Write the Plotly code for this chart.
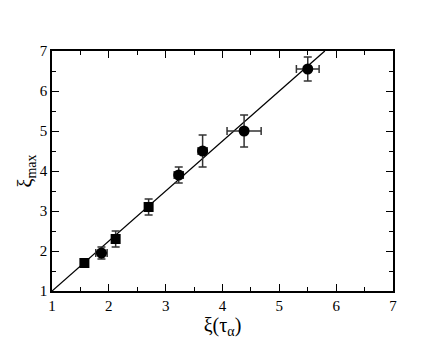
import plotly.graph_objects as go

# squares
sq_x = [1.57, 2.12, 2.70]
sq_y = [1.70, 2.30, 3.10]
sq_ex = [0.02, 0.05, 0.04]
sq_ey = [0.03, 0.20, 0.20]

# circles
ci_x = [1.87, 3.23, 3.65, 4.38, 5.50]
ci_y = [1.95, 3.90, 4.50, 5.00, 6.55]
ci_ex = [0.10, 0.08, 0.08, 0.30, 0.20]
ci_ey = [0.15, 0.20, 0.40, 0.40, 0.30]

fit_x = [1.0, 5.8]
fit_y = [1.0, 7.0]

font_family = "Liberation Serif"
eb_color = "#333333"

fig = go.Figure()
fig.add_trace(go.Scatter(x=fit_x, y=fit_y, mode="lines",
                         line=dict(color="black", width=1.3), showlegend=False))
fig.add_trace(go.Scatter(
    x=sq_x, y=sq_y, mode="markers",
    marker=dict(symbol="square", size=10, color="black"),
    error_x=dict(type="data", array=sq_ex, color=eb_color, thickness=1.5, width=4),
    error_y=dict(type="data", array=sq_ey, color=eb_color, thickness=1.5, width=4),
    showlegend=False))
fig.add_trace(go.Scatter(
    x=ci_x, y=ci_y, mode="markers",
    marker=dict(symbol="circle", size=11, color="black"),
    error_x=dict(type="data", array=ci_ex, color=eb_color, thickness=1.5, width=4),
    error_y=dict(type="data", array=ci_ey, color=eb_color, thickness=1.5, width=4),
    showlegend=False))

axis_common = dict(
    showgrid=False, zeroline=False, showline=True, linecolor="black", linewidth=1.5,
    mirror="ticks", ticks="inside", ticklen=7, tickwidth=1.2, tickcolor="black",
    tickfont=dict(family=font_family, size=15, color="black"),
    minor=dict(ticks="inside", ticklen=4, dtick=0.5, tickcolor="black", tickwidth=1.2),
    dtick=1, automargin=False,
)

# page body has an 8px default margin, so the figure is 8px smaller
fig.update_layout(
    width=435, height=334,
    margin=dict(l=44, r=50, t=43, b=51),
    plot_bgcolor="white", paper_bgcolor="white",
    font=dict(family=font_family, color="black"),
    xaxis=dict(range=[1, 7], title=dict(text="ξ(τ<sub>α</sub>)", font=dict(size=20, family=font_family), standoff=0),
               **axis_common),
    yaxis=dict(range=[1, 7], title=dict(text="ξ<sub>max</sub>", font=dict(size=20, family=font_family), standoff=2),
               **axis_common),
)

fig.write_html("out.html")
